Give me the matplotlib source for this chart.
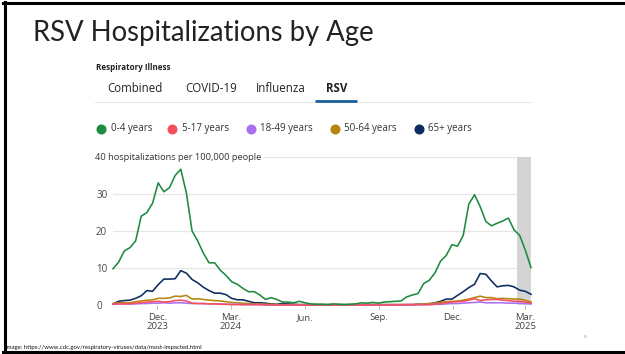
import matplotlib.pyplot as plt
import matplotlib.transforms as mtransforms
from matplotlib.lines import Line2D
import pandas as pd

# weekly RSV hospitalization rates per 100,000, week ending Saturday
weeks = pd.date_range('2023-10-07', periods=75, freq='7D')

age_0_4 = [9.8, 11.6, 14.6, 15.5, 17.3, 24.0, 25.0, 27.5, 33.0, 30.6,
           31.7, 35.0, 36.7, 30.2, 20.0, 17.3, 14.0, 11.4, 11.4, 9.4,
           8.0, 6.3, 5.6, 4.5, 3.6, 3.6, 2.7, 1.5, 2.0, 1.5,
           0.8, 0.8, 0.6, 1.0, 0.6, 0.3, 0.2, 0.2, 0.1, 0.3,
           0.2, 0.1, 0.2, 0.3, 0.6, 0.5, 0.7, 0.5, 0.8, 0.9,
           1.0, 1.1, 2.2, 2.7, 3.1, 5.8, 6.7, 8.7, 11.9, 13.4,
           16.3, 15.9, 18.8, 27.3, 29.8, 26.6, 22.6, 21.4, 22.1, 22.7,
           23.5, 20.3, 18.8, 14.8, 10.1]
age_5_17 = [0.2, 0.3, 0.3, 0.3, 0.5, 0.6, 0.8, 0.9, 1.0, 0.8,
            0.9, 1.2, 1.3, 1.1, 0.5, 0.4, 0.4, 0.3, 0.3, 0.2,
            0.2, 0.1, 0.1, 0.1, 0.1, 0.1, 0.1, 0.0, 0.0, 0.0,
            0.0, 0.0, 0.0, 0.0, 0.0, 0.0, 0.0, 0.0, 0.0, 0.0,
            0.0, 0.0, 0.0, 0.0, 0.0, 0.0, 0.0, 0.0, 0.0, 0.0,
            0.0, 0.0, 0.1, 0.1, 0.1, 0.1, 0.1, 0.2, 0.4, 0.6,
            0.8, 0.9, 1.0, 1.3, 1.7, 1.2, 1.4, 1.5, 1.5, 1.3,
            1.2, 1.0, 1.0, 0.8, 0.5]
age_18_49 = [0.2, 0.3, 0.3, 0.3, 0.3, 0.4, 0.4, 0.5, 0.5, 0.6,
             0.5, 0.6, 0.6, 0.5, 0.4, 0.4, 0.4, 0.3, 0.3, 0.3,
             0.2, 0.2, 0.2, 0.1, 0.1, 0.1, 0.1, 0.1, 0.0, 0.0,
             0.0, 0.0, 0.0, 0.0, 0.0, 0.0, 0.0, 0.0, 0.0, 0.0,
             0.0, 0.0, 0.0, 0.0, 0.0, 0.0, 0.0, 0.0, 0.0, 0.0,
             0.0, 0.0, 0.0, 0.1, 0.1, 0.1, 0.1, 0.2, 0.2, 0.3,
             0.4, 0.4, 0.5, 0.6, 0.7, 0.8, 0.6, 0.6, 0.6, 0.6,
             0.5, 0.5, 0.5, 0.4, 0.3]
age_50_64 = [0.4, 0.6, 0.6, 0.6, 0.9, 1.1, 1.3, 1.4, 1.8, 1.8,
             1.9, 2.4, 2.3, 2.6, 1.6, 1.7, 1.5, 1.3, 1.2, 1.1,
             0.9, 0.7, 0.6, 0.5, 0.4, 0.3, 0.3, 0.2, 0.2, 0.1,
             0.1, 0.1, 0.1, 0.1, 0.1, 0.1, 0.1, 0.1, 0.1, 0.1,
             0.1, 0.1, 0.1, 0.1, 0.1, 0.1, 0.1, 0.1, 0.1, 0.1,
             0.1, 0.1, 0.1, 0.1, 0.2, 0.3, 0.4, 0.5, 0.7, 0.9,
             1.0, 1.1, 1.3, 1.6, 2.0, 2.4, 2.0, 2.0, 1.7, 1.8,
             1.7, 1.6, 1.6, 1.3, 0.8]
age_65_plus = [0.3, 1.0, 1.2, 1.3, 1.8, 2.5, 3.9, 3.7, 5.5, 7.0,
               7.0, 7.1, 9.3, 8.6, 6.9, 6.0, 4.8, 3.9, 3.2, 3.2,
               2.8, 1.8, 1.4, 1.4, 1.0, 0.6, 0.6, 0.5, 0.3, 0.2,
               0.4, 0.3, 0.2, 0.1, 0.1, 0.1, 0.1, 0.1, 0.1, 0.1,
               0.1, 0.1, 0.1, 0.1, 0.1, 0.1, 0.1, 0.1, 0.1, 0.1,
               0.1, 0.1, 0.1, 0.1, 0.2, 0.2, 0.3, 0.6, 1.0, 1.6,
               1.6, 2.6, 3.6, 4.7, 5.6, 8.5, 8.3, 6.5, 4.9, 5.2,
               5.3, 4.9, 4.0, 3.7, 2.9]

series_labels = ['0-4 years', '5-17 years', '18-49 years', '50-64 years', '65+ years']
series_colors = ['#1e8a3e', '#f5505e', '#a970f2', '#b5860d', '#0c2a5e']
series_values = [age_0_4, age_5_17, age_18_49, age_50_64, age_65_plus]

tabs = ['Combined', 'COVID-19', 'Influenza', 'RSV']
tick_dates = pd.to_datetime(['2023-12-01', '2024-03-01', '2024-06-01',
                             '2024-09-01', '2024-12-01', '2025-03-01'])
tick_labels = ['Dec.\n2023', 'Mar.\n2024', 'Jun.', 'Sep.', 'Dec.', 'Mar.\n2025']
y_ticks = [0, 10, 20, 30]

W, H = 625, 354
fig = plt.figure(figsize=(W / 100, H / 100), dpi=100)
fig.patch.set_facecolor('white')


def fx(px):
    return px / W


def fy(py):
    return 1 - py / H


# slide frame
for xs, ys in [((3, W), (2.5, 2.5)), ((4.5, 4.5), (2, 353)), ((3, W), (351.5, 351.5))]:
    fig.add_artist(Line2D([fx(x) for x in xs], [fy(y) for y in ys],
                          color='black', lw=2.2, transform=fig.transFigure))

fig.text(fx(33), fy(41), 'RSV Hospitalizations by Age', fontsize=19.8,
         family='Lato', color='#222222', va='baseline', ha='left')

# dashboard header and tabs
ui_font = 'Open Sans'
fig.text(fx(96), fy(67), 'Respiratory Illness', fontsize=5.8, weight='bold',
         family=ui_font, color='#222222', va='center')
for label, x in zip(tabs, [107, 185, 256, 326]):
    fig.text(fx(x), fy(88), label, fontsize=8.3, family=ui_font,
             weight='bold' if label == 'RSV' else 'normal',
             color='#222222', va='center')
fig.add_artist(Line2D([fx(95), fx(531)], [fy(102), fy(102)], color='#e8e8e8',
                      lw=0.8, transform=fig.transFigure))
fig.add_artist(Line2D([fx(315), fx(357)], [fy(100.5), fy(100.5)], color='#1b5e9a',
                      lw=2.0, transform=fig.transFigure, solid_capstyle='butt'))

# legend
for label, color, cx in zip(series_labels, series_colors, [101, 172, 250.5, 334.5, 418.5]):
    fig.add_artist(Line2D([fx(cx)], [fy(129)], marker='o', markersize=6.2,
                          markerfacecolor=color, markeredgecolor=color, lw=0,
                          transform=fig.transFigure))
    fig.text(fx(cx + 9.5), fy(129), label, fontsize=7.0, family=ui_font,
             color='#333333', va='center', ha='left')

ax = fig.add_axes([fx(113), fy(305), fx(531) - fx(113), fy(157) - fy(305)])
ax.set_xlim(weeks[0], weeks[-1])
ax.set_ylim(0, 40)
for s in ax.spines.values():
    s.set_visible(False)

for v in [10, 20, 30, 40]:
    ax.axhline(v, color='#e6e6e6', lw=0.9, zorder=0)
ax.axhline(0, color='#d0d0d0', lw=0.8, zorder=0)

# preliminary data shading
ax.axvspan(pd.Timestamp('2025-02-19'), weeks[-1], color='#d4d4d4', lw=0, zorder=0.5)

for values, color in zip(series_values[::-1], series_colors[::-1]):
    ax.plot(weeks, values, color=color, lw=1.15, clip_on=False, zorder=2)

ax.set_yticks(y_ticks)
ax.set_yticklabels([str(v) for v in y_ticks], family=ui_font, fontsize=7.0, color='#444444')
ax.tick_params(axis='y', length=0, pad=12.2)
for t in ax.get_yticklabels():
    t.set_horizontalalignment('left')

ax.set_xticks(tick_dates)
ax.set_xticklabels(tick_labels, family=ui_font, fontsize=6.8, color='#444444',
                   linespacing=1.0)
ax.tick_params(axis='x', length=3, width=0.7, color='#bbbbbb', pad=2.5)

trans = mtransforms.blended_transform_factory(fig.transFigure, ax.transData)
ax.text(fx(95), 40, '40 hospitalizations per 100,000 people', transform=trans,
        family=ui_font, fontsize=6.7, color='#333333', va='center', ha='left',
        bbox=dict(facecolor='white', edgecolor='none', pad=1.2), zorder=3)

fig.text(fx(5), fy(347), 'Image: https://www.cdc.gov/respiratory-viruses/data/most-impacted.html',
         fontsize=4.3, family='Lato', color='#111111', va='center', ha='left')
fig.text(fx(583), fy(337), '19', fontsize=3, color='#aaaaaa', va='center')

fig.savefig('out.png', dpi=100, facecolor='white')
